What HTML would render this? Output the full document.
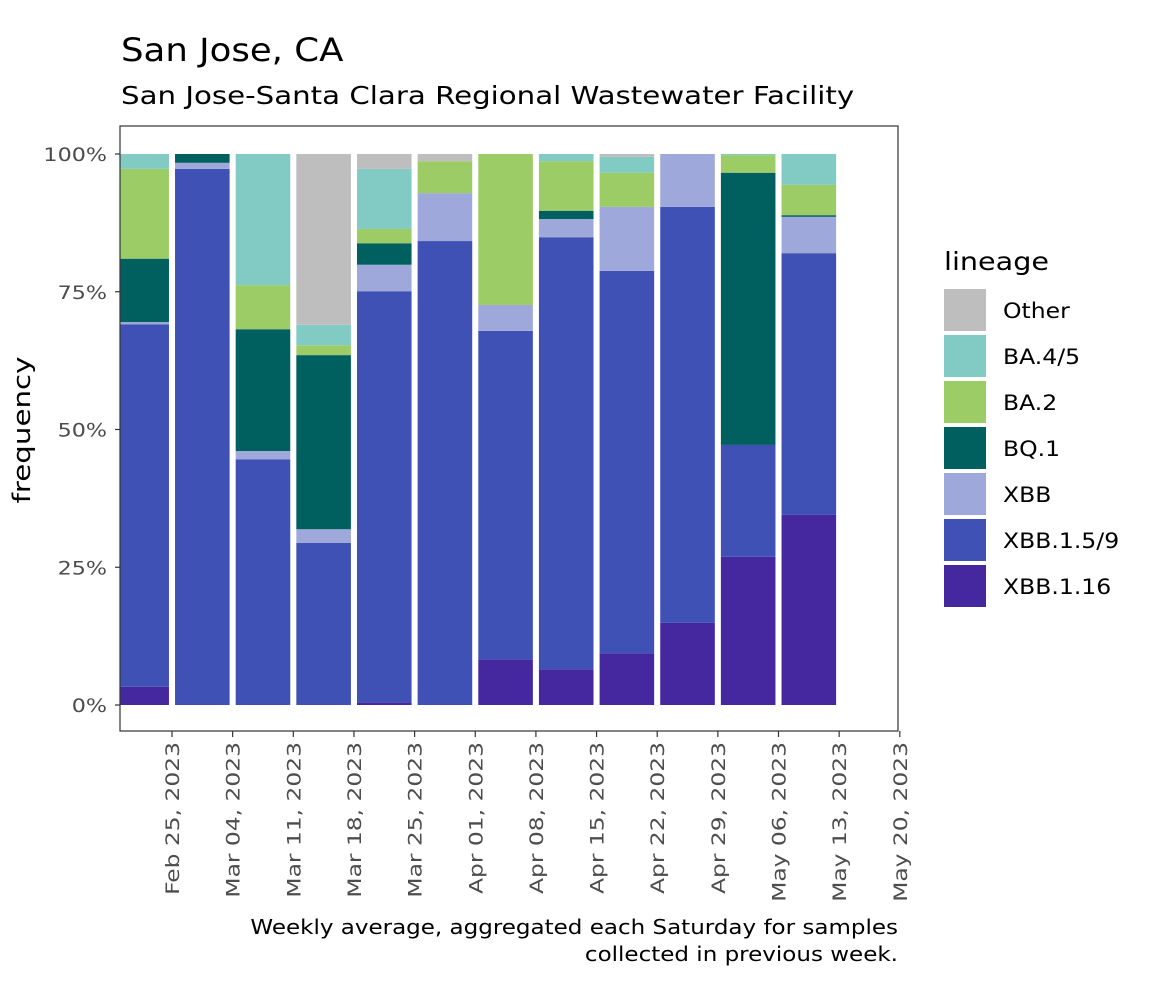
<!DOCTYPE html>
<html><head><meta charset="utf-8"><style>
body{margin:0;background:#fff;}
svg text{font-family:"DejaVu Sans","Liberation Sans",sans-serif;}
</style></head><body>
<svg id="chart" width="1156" height="982" xmlns="http://www.w3.org/2000/svg">
<text x="121" y="61" font-size="32" fill="#000" data-sc="1.11">San Jose, CA</text>
<text x="121" y="104" font-size="25" fill="#000" data-sc="1.17">San Jose-Santa Clara Regional Wastewater Facility</text>
<defs><clipPath id="pc"><rect x="120" y="126" width="778" height="605"/></clipPath></defs>
<rect x="120" y="126" width="778" height="605" fill="#fff"/>
<g id="bars" clip-path="url(#pc)"></g>
<rect x="120" y="126" width="778" height="605" fill="none" stroke="#333" stroke-width="1.2"/>
<g id="yaxis"></g><g id="xaxis"></g>
<text transform="translate(30,430) rotate(-90)" text-anchor="middle" font-size="24" data-sc="1.22">frequency</text>
<text x="898" y="934" text-anchor="end" font-size="20" data-sc="1.15">Weekly average, aggregated each Saturday for samples</text>
<text x="898" y="961" text-anchor="end" font-size="20" data-sc="1.15">collected in previous week.</text>
<text x="944" y="270" font-size="25" data-sc="1.145">lineage</text>
<g id="legend"></g>
</svg>
<script>
const dates=["Feb 25, 2023","Mar 04, 2023","Mar 11, 2023","Mar 18, 2023","Mar 25, 2023","Apr 01, 2023","Apr 08, 2023","Apr 15, 2023","Apr 22, 2023","Apr 29, 2023","May 06, 2023","May 13, 2023","May 20, 2023"];
const lineages=["XBB.1.16","XBB.1.5/9","XBB","BQ.1","BA.2","BA.4/5","Other"];
const xbb116=[3.3,0,0,0,0.5,0,8.3,6.5,9.4,14.9,26.9,34.5];
const xbb159=[65.8,97.3,44.6,29.4,74.6,84.2,59.6,78.4,69.4,75.5,20.3,47.5];
const xbb=[0.4,1.1,1.5,2.5,4.8,8.7,4.7,3.3,11.6,9.6,0,6.6];
const bq1=[11.5,1.6,22.1,31.6,3.9,0,0,1.5,0,0,49.4,0.3];
const ba2=[16.3,0,8,1.8,2.6,5.8,27.4,9,6.2,0,3.2,5.5];
const ba45=[2.7,0,23.8,3.7,10.9,0,0,1.3,2.9,0,0.2,5.6];
const other=[0,0,0,31,2.7,1.3,0,0,0.5,0,0,0];
const yTicks=[0,25,50,75,100];
const colors=["#4527a0","#3f51b5","#9fa8da","#005f5f","#9ccc65","#82cbc4","#bebebe"];
const series=[xbb116,xbb159,xbb,bq1,ba2,ba45,other];
const NS="http://www.w3.org/2000/svg";
const y=v=>705-5.51*v;
const step=60.65;
const tickX=i=>172+i*step;
function mk(t,a,p){const e=document.createElementNS(NS,t);for(const k in a)e.setAttribute(k,a[k]);p.appendChild(e);return e;}
const bars=document.getElementById('bars');
for(let i=0;i<xbb116.length;i++){
  let cum=0;const cx=tickX(i)-step/2,w=step*0.9;
  series.forEach((s,j)=>{
    const v=s[i];if(v<=0){return;}
    const r=mk('rect',{x:cx-w/2,y:y(cum+v),width:w,height:y(cum)-y(cum+v),fill:colors[j]},bars);
    
    
    cum+=v;
  });
}
const ya=document.getElementById('yaxis');
yTicks.forEach(t=>{
  const l=mk('line',{x1:115,x2:120,y1:y(t),y2:y(t),stroke:'#333','stroke-width':1.2},ya);
  
  
  const tx=mk('text',{x:107,y:y(t)+7,'text-anchor':'end','font-size':19,fill:'#4d4d4d','data-sc':1.17},ya);
  
  
  tx.textContent=t+'%';
});
const xa=document.getElementById('xaxis');
dates.forEach((d,i)=>{
  const x=tickX(i);
  const l=mk('line',{x1:x,x2:x,y1:731,y2:737,stroke:'#333','stroke-width':1.2},xa);
  
  
  const tx=mk('text',{transform:`translate(${x+7},742) rotate(-90)`,'text-anchor':'end','font-size':19,fill:'#4d4d4d','data-sc':1.23},xa);
  
  
  tx.textContent=d;
});
const lg=document.getElementById('legend');
const order=[6,5,4,3,2,1,0];
order.forEach((j,k)=>{
  const yy=289+k*46;
  const r=mk('rect',{x:944,y:yy,width:42,height:42,fill:colors[j]},lg);
  
  
  const t=mk('text',{x:1003,y:yy+29,'font-size':21,'data-sc':1.12},lg);
  
  
  t.textContent=lineages[j];
});
document.querySelectorAll('text[data-sc]').forEach(t=>{
  const L=t.getComputedTextLength()*parseFloat(t.getAttribute('data-sc'));
  t.setAttribute('textLength',L);
  t.setAttribute('lengthAdjust','spacingAndGlyphs');
});
</script>
</body></html>
